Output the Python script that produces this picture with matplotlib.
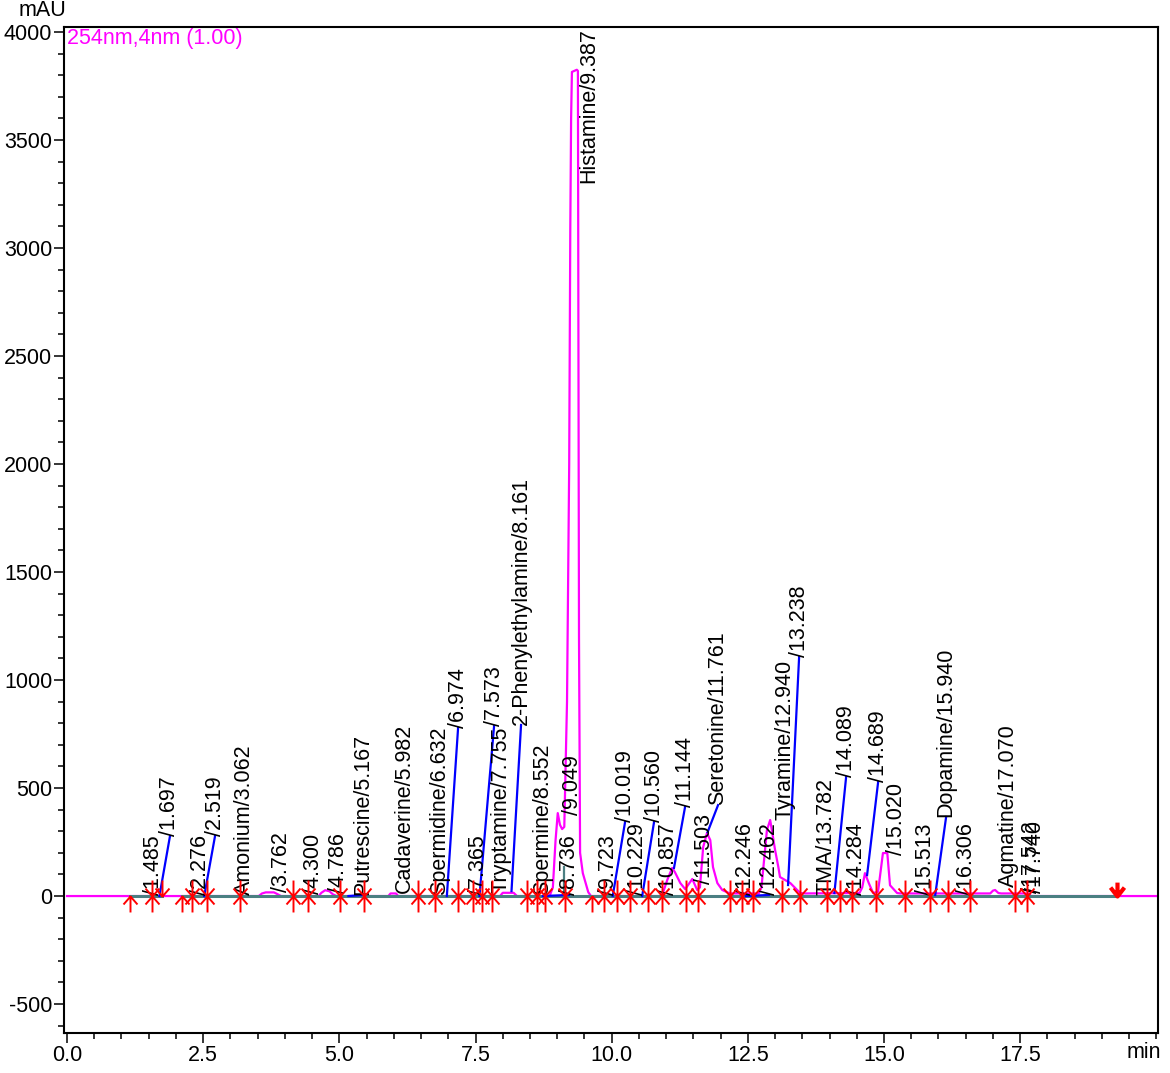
import matplotlib
matplotlib.use("Agg")
import matplotlib.pyplot as plt
from matplotlib.path import Path
from matplotlib.ticker import MultipleLocator

plt.rcParams['font.family'] = ['Liberation Sans', 'DejaVu Sans']
plt.rcParams['font.size'] = 15.5
plt.rcParams['axes.unicode_minus'] = False

# trace 254nm (min, mAU)
temps = [0, 3.52, 3.58, 3.65, 3.80, 3.87, 3.93, 4.62, 4.67, 4.74, 4.82, 4.88, 4.95,
         5.90, 5.94, 6.04, 6.08, 7.95, 8.00, 8.20, 8.26, 8.86, 8.92, 8.97, 9.01, 9.05,
         9.09, 9.13, 9.18, 9.22, 9.24, 9.255, 9.27, 9.36, 9.38, 9.40, 9.42, 9.47, 9.57,
         9.62, 10.90, 10.94, 11.02, 11.11, 11.16, 11.26, 11.35, 11.48, 11.57, 11.62,
         11.68, 11.75, 11.81, 11.86, 11.94, 12.03, 12.17, 12.70, 12.75, 12.85, 12.91,
         13.00, 13.06, 13.09, 13.28, 13.46, 13.55, 14.55, 14.60, 14.65, 14.72, 14.80,
         14.89, 14.98, 15.06, 15.11, 15.24, 15.30, 16.95, 17.00, 17.04, 17.10, 17.15,
         17.65, 17.70, 20.0]
signal = [0, 0, 12, 17, 17, 8, 0, 0, 15, 27, 22, 8, 0,
          0, 12, 12, 0, 0, 15, 15, 0, 0, 40, 260, 384, 330,
          310, 320, 900, 2000, 3080, 3600, 3815, 3825, 3820, 1200, 200, 106, 18,
          0, 0, 14, 74, 130, 111, 60, 32, 79, 28, 40,
          227, 292, 259, 134, 60, 28, 12, 12, 40, 305, 352,
          213, 134, 88, 60, 14, 12, 14, 40, 106, 60, 14,
          20, 199, 199, 50, 14, 12, 12, 25, 28, 14, 12,
          12, 0, 0]

# pics
noms = ['', '', '', '', 'Amonium', '', '', '', 'Putrescine', 'Cadaverine',
        'Spermidine', '', '', '', 'Tryptamine', '2-Phenylethylamine', 'Spermine', '',
        '', 'Histamine', '', '', '', '', '', '', '', 'Seretonine', '', '',
        'Tyramine', '', 'TMA', '', '', '', '', '', 'Dopamine', '', 'Agmatine', '', '']
temps_pics = [1.485, 1.697, 2.276, 2.519, 3.062, 3.762, 4.300, 4.786, 5.167, 5.982,
              6.632, 6.974, 7.365, 7.573, 7.755, 8.161, 8.552, 8.736,
              9.049, 9.387, 9.723, 10.019, 10.229, 10.560, 10.857, 11.144, 11.503, 11.761, 12.246, 12.462,
              12.940, 13.238, 13.782, 14.089, 14.284, 14.689, 15.020, 15.513, 15.940, 16.306, 17.070, 17.542, 17.740]
# hauteur du pic pour les traits de rappel (None = pas de trait)
hauteur_trait = [None, 0, None, 0, None, None, None, None, 0, None,
                 None, 0, None, 0, None, 23, None, 0,
                 None, None, None, 0, None, 0, None, 130, None, 296, None, 0,
                 None, 51, None, 14, None, 97, None, None, 5, None, None, None, None]

# position des etiquettes (min, mAU du bas du texte)
etiq_x = [1.579, 1.891, 2.442, 2.718, 3.250, 3.930, 4.517, 4.976, 5.435, 6.188,
          6.831, 7.180, 7.547, 7.841, 7.969, 8.336, 8.740, 9.218,
          9.273, 9.585, 9.934, 10.246, 10.466, 10.778, 11.035, 11.347, 11.696, 11.953, 12.449, 12.890,
          13.184, 13.441, 13.937, 14.304, 14.488, 14.892, 15.222, 15.754, 16.140, 16.507, 17.279, 17.701, 17.775]
etiq_y = [5, 278, 5, 278, 5, 19, 9, 14, 5, 14,
          5, 778, 5, 787, 14, 792, 5, 5,
          375, 3301, 5, 343, 5, 343, 5, 412, 56, 421, 5, 5,
          352, 1106, 5, 551, 5, 528, 190, 5, 366, 5, 42, 14, 14]

# marqueurs debut / fin de pic
debuts = [1.157, 1.561, 2.112, 2.295, 2.571, 3.177, 4.150, 4.425, 5.013, 5.454,
          6.445, 6.757, 7.180, 7.455, 7.620, 7.804, 8.447, 8.630, 8.777, 9.144,
          9.640, 9.861, 10.099, 10.338, 10.668, 10.925, 11.366, 11.586, 12.174, 12.394,
          12.596, 13.129, 13.459, 13.955, 14.194, 14.414, 14.855, 15.387, 15.847, 16.177,
          16.581, 17.407, 17.628]
fins = [1.561, 1.745, 2.295, 2.571, 3.177, 4.150, 4.425, 5.013, 5.454,
        6.445, 6.757, 7.180, 7.455, 7.620, 7.804, 8.447, 8.630, 8.777, 9.144,
        9.861, 10.099, 10.338, 10.668, 10.925, 11.366, 11.586, 12.174, 12.394,
        12.596, 13.129, 13.459, 13.955, 14.194, 14.414, 14.855, 15.387, 15.847, 16.177,
        16.581, 17.407, 17.628]
fin_analyse = [19.28]

lignes_base = [(1.157, 1.745), (2.112, 19.28)]
separation = (9.126, 134)

M, L = Path.MOVETO, Path.LINETO
fleche_haut = Path([(0, 0), (0, -16), (-7, -8), (0, 0), (7, -8)], [M, L, M, L, L])
fleche_bas = Path([(0, 0), (0, 16), (-7, 8), (0, 0), (7, 8)], [M, L, M, L, L])
fleche_stop = Path([(0, 0), (0, 14), (-7, 9), (0, 0), (7, 9)], [M, L, M, L, L])

fig = plt.figure(figsize=(11.7, 10.73), dpi=100)
ax = fig.add_axes([64 / 1170, 1 - 1033 / 1073, 1094 / 1170, 1006 / 1073])

ax.plot(temps, signal, color='#ff00ff', lw=1.6, zorder=2)
for debut, fin in lignes_base:
    ax.plot([debut, fin], [0, 0], color='#4b7f82', lw=2.2, zorder=3)
ax.plot([separation[0], separation[0]], [0, separation[1]], color='#4b7f82', lw=1.6, zorder=3)

for i in range(len(temps_pics)):
    texte = noms[i] + '/' + '%.3f' % temps_pics[i]
    if hauteur_trait[i] is not None:
        ax.plot([temps_pics[i], etiq_x[i]], [hauteur_trait[i], etiq_y[i]],
                color='#0000ff', lw=1.6, zorder=4)
    ax.text(etiq_x[i], etiq_y[i], texte, rotation=90, ha='center', va='bottom', zorder=5)

ax.plot(debuts, [0] * len(debuts), ls='none', marker=fleche_haut, ms=23,
        mfc='none', mec='#ff0000', mew=1.4, zorder=6)
ax.plot(fins, [0] * len(fins), ls='none', marker=fleche_bas, ms=23,
        mfc='none', mec='#ff0000', mew=1.4, zorder=6)
ax.plot(fin_analyse, [0], ls='none', marker=fleche_stop, ms=20,
        mfc='none', mec='#ff0000', mew=3, zorder=6)

ax.set_xlim(-0.055, 20.03)
ax.set_ylim(-634, 4023)
ax.set_xticks([0, 2.5, 5, 7.5, 10, 12.5, 15, 17.5])
ax.set_xticklabels(['0.0', '2.5', '5.0', '7.5', '10.0', '12.5', '15.0', '17.5'])
ax.set_yticks([-500, 0, 500, 1000, 1500, 2000, 2500, 3000, 3500, 4000])
ax.xaxis.set_minor_locator(MultipleLocator(0.5))
ax.yaxis.set_minor_locator(MultipleLocator(100))
ax.tick_params(which='major', direction='out', length=7.5, width=1.1, pad=1)
ax.tick_params(which='minor', direction='out', length=4.3, width=1.1)
for s in ax.spines.values():
    s.set_linewidth(1.5)

ax.text(0.003, 0.999, '254nm,4nm (1.00)', color='#ff00ff', transform=ax.transAxes,
        ha='left', va='top')
fig.text(66 / 1170, 1 - 21 / 1073, 'mAU', ha='right', va='bottom')
fig.text(1144 / 1170, 1 - 1052 / 1073, 'min', ha='center', va='center')

fig.savefig('out.png', dpi=100)
